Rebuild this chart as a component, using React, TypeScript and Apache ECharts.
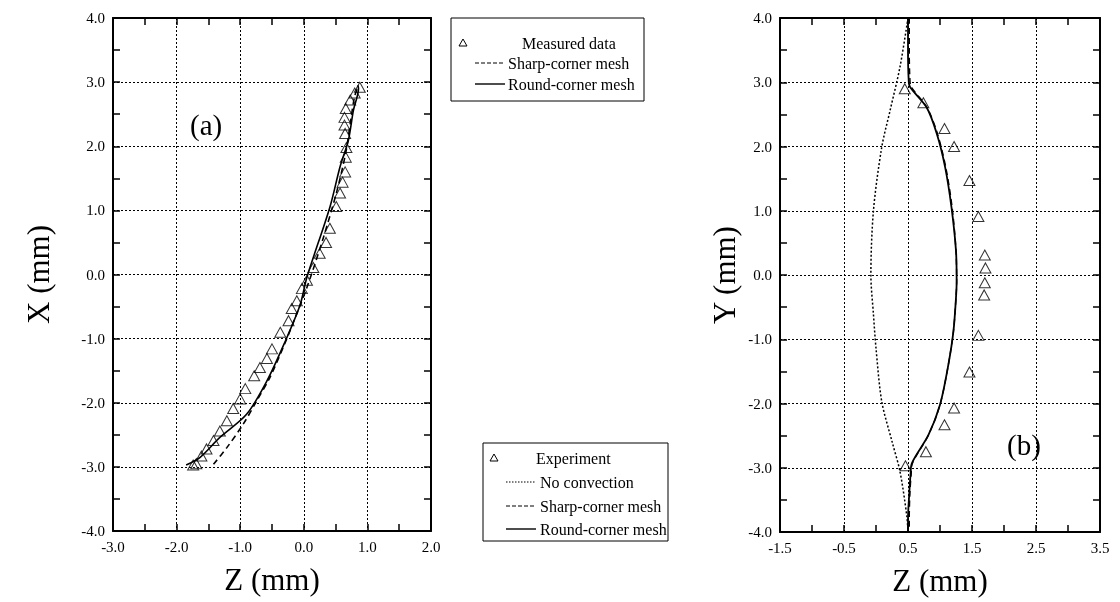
import React, { useEffect, useRef } from "react";
import * as echarts from "echarts";

// ---------- data ----------
// Panel (a): Z (mm) vs X (mm)
const measuredA: number[][] = [
  [-1.74, -2.97], [-1.69, -2.95], [-1.61, -2.83], [-1.53, -2.72], [-1.42, -2.59], [-1.32, -2.44],
  [-1.21, -2.28], [-1.11, -2.09], [-1.0, -1.94], [-0.92, -1.78], [-0.78, -1.58],
  [-0.69, -1.45], [-0.58, -1.31], [-0.5, -1.16], [-0.37, -0.9], [-0.24, -0.72],
  [-0.19, -0.53], [-0.11, -0.41], [-0.03, -0.22], [0.05, -0.09], [0.15, 0.11],
  [0.25, 0.33], [0.35, 0.5], [0.41, 0.72], [0.51, 1.06], [0.57, 1.27], [0.61, 1.44],
  [0.65, 1.6], [0.66, 1.83], [0.67, 1.98], [0.65, 2.2], [0.64, 2.33], [0.64, 2.45],
  [0.66, 2.59], [0.73, 2.72], [0.8, 2.83], [0.88, 2.92],
];
const sharpA: number[][] = [
  [-1.42, -2.96], [-1.21, -2.7], [-0.95, -2.33], [-0.74, -1.97], [-0.53, -1.6],
  [-0.3, -1.08], [-0.11, -0.61], [0.05, -0.2], [0.3, 0.55], [0.52, 1.3],
  [0.66, 1.9], [0.74, 2.42], [0.8, 2.78], [0.86, 2.95],
];
const roundA: number[][] = [
  [-1.85, -2.97], [-1.63, -2.85], [-1.32, -2.54], [-0.9, -2.18], [-0.58, -1.66],
  [-0.3, -1.06], [-0.06, -0.48], [0.05, -0.04], [0.41, 1.05], [0.57, 1.68],
  [0.7, 2.09], [0.78, 2.56], [0.86, 2.9], [0.85, 2.95],
];

// Panel (b): Z (mm) vs Y (mm)
const experimentB: number[][] = [
  [0.46, -2.97], [0.78, -2.75], [1.07, -2.33], [1.22, -2.07], [1.46, -1.51],
  [1.6, -0.94], [1.69, -0.31], [1.7, -0.12], [1.71, 0.11], [1.7, 0.31],
  [1.6, 0.91], [1.46, 1.47], [1.22, 2.0], [1.07, 2.28], [0.74, 2.68], [0.45, 2.9],
];
const noConvB: number[][] = [
  [0.5, 4.0], [0.375, 3.24], [0.22, 2.56], [0.09, 1.99], [-0.04, 1.0], [-0.08, 0.0],
  [-0.04, -0.61], [0.0, -1.14], [0.09, -1.97], [0.25, -2.59], [0.375, -3.06],
  [0.48, -3.74], [0.5, -4.0],
];
const sharpB: number[][] = [
  [0.52, 4.0], [0.52, 3.5], [0.53, 3.05], [0.55, 2.93], [0.8, 2.6], [0.96, 2.2],
  [1.09, 1.68], [1.19, 1.05], [1.25, 0.375], [1.26, -0.1], [1.25, -0.35],
  [1.21, -0.875], [1.13, -1.4], [1.0, -2.02], [0.82, -2.49], [0.57, -2.93],
  [0.55, -3.1], [0.53, -3.4], [0.52, -3.8], [0.52, -4.0],
];
const roundB: number[][] = [
  [0.5, 4.0], [0.5, 3.5], [0.51, 3.05], [0.53, 2.93], [0.79, 2.61], [0.95, 2.2],
  [1.08, 1.68], [1.18, 1.05], [1.25, 0.375], [1.26, -0.1], [1.25, -0.35],
  [1.21, -0.875], [1.13, -1.4], [1.0, -2.02], [0.82, -2.49], [0.56, -2.93],
  [0.54, -3.1], [0.52, -3.4], [0.5, -3.8], [0.5, -4.0],
];

const legendA = ["Measured data", "Sharp-corner mesh", "Round-corner mesh"];
const legendB = ["Experiment", "No convection", "Sharp-corner mesh", "Round-corner mesh"];

const SERIF = "Liberation Serif";

function mainAxis(gridIndex: number, min: number, max: number, isX: boolean, name: string, nameGap: number): any {
  return {
    gridIndex, type: "value", min, max, interval: 1,
    position: isX ? "bottom" : "left",
    axisLine: { show: true, onZero: false, lineStyle: { color: "#000", width: 2 } },
    axisTick: { show: true, inside: true, length: 7, lineStyle: { color: "#000", width: 1.5 } },
    minorTick: { show: true, splitNumber: 2, length: 7, lineStyle: { color: "#000", width: 1.5 } },
    splitLine: { show: true, lineStyle: { color: "#000", width: 1, type: [2, 2] } },
    axisLabel: { color: "#000", fontFamily: SERIF, fontSize: 15, margin: 8, formatter: (v: number) => v.toFixed(1) },
    name, nameLocation: "middle", nameGap,
    nameTextStyle: { color: "#000", fontFamily: SERIF, fontSize: 31 },
  };
}
function mirrorAxis(gridIndex: number, min: number, max: number, isX: boolean): any {
  return {
    gridIndex, type: "value", min, max, interval: 1,
    position: isX ? "top" : "right",
    axisLine: { show: true, onZero: false, lineStyle: { color: "#000", width: 2 } },
    axisTick: { show: true, inside: true, length: 7, lineStyle: { color: "#000", width: 1.5 } },
    minorTick: { show: true, splitNumber: 2, length: 7, lineStyle: { color: "#000", width: 1.5 } },
    splitLine: { show: false },
    axisLabel: { show: false },
  };
}

export default function App() {
  const ref = useRef<HTMLDivElement>(null);

  useEffect(() => {
    if (!ref.current) return;
    const chart = echarts.init(ref.current, null, { renderer: "svg" });

    const tri = {
      type: "scatter",
      symbol: "triangle",
      symbolSize: [11, 10],
      itemStyle: { color: "rgba(255,255,255,0)", borderColor: "#000", borderWidth: 1 },
    };
    const lineBase = { type: "line", showSymbol: false, symbol: "none", smooth: 0.3 };
    const lgText = { fill: "#000", font: `16px ${SERIF}`, verticalAlign: "middle" };

    const option: any = {
      animation: false,
      grid: [
        { left: 113, top: 18, width: 318, height: 513 },
        { left: 780, top: 18, width: 320, height: 514 },
      ],
      xAxis: [
        mainAxis(0, -3, 2, true, "Z (mm)", 33),
        mirrorAxis(0, -3, 2, true),
        mainAxis(1, -1.5, 3.5, true, "Z (mm)", 33),
        mirrorAxis(1, -1.5, 3.5, true),
      ],
      yAxis: [
        mainAxis(0, -4, 4, false, "X (mm)", 59),
        mirrorAxis(0, -4, 4, false),
        mainAxis(1, -4, 4, false, "Y (mm)", 40),
        mirrorAxis(1, -4, 4, false),
      ],
      series: [
        { ...tri, name: "Measured data", xAxisIndex: 0, yAxisIndex: 0, data: measuredA, z: 3 },
        { ...lineBase, name: "Sharp-corner mesh", xAxisIndex: 0, yAxisIndex: 0, data: sharpA,
          lineStyle: { color: "#000", width: 1.6, type: [6, 4] } },
        { ...lineBase, name: "Round-corner mesh", xAxisIndex: 0, yAxisIndex: 0, data: roundA,
          lineStyle: { color: "#000", width: 1.6 } },
        { ...tri, name: "Experiment", xAxisIndex: 2, yAxisIndex: 2, data: experimentB, z: 3 },
        { ...lineBase, name: "No convection", xAxisIndex: 2, yAxisIndex: 2, data: noConvB,
          lineStyle: { color: "#000", width: 1.5, type: [2, 2] } },
        { ...lineBase, name: "Sharp-corner mesh", xAxisIndex: 2, yAxisIndex: 2, data: sharpB,
          lineStyle: { color: "#000", width: 1.4, type: [6, 4] } },
        { ...lineBase, name: "Round-corner mesh", xAxisIndex: 2, yAxisIndex: 2, data: roundB,
          lineStyle: { color: "#000", width: 1.8 } },
      ],
      graphic: [
        { type: "text", left: 190, top: 110, style: { text: "(a)", fill: "#000", font: `29px ${SERIF}` } },
        { type: "text", left: 1007, top: 430, style: { text: "(b)", fill: "#000", font: `29px ${SERIF}` } },
        // legend (a)
        { type: "rect", shape: { x: 451, y: 18, width: 193, height: 83 },
          style: { fill: "#fff", stroke: "#000", lineWidth: 1 }, z: 10 },
        { type: "polygon", shape: { points: [[463, 39], [467, 46], [459, 46]] },
          style: { fill: "none", stroke: "#000", lineWidth: 1 }, z: 11 },
        { type: "text", x: 522, y: 43, style: { ...lgText, text: legendA[0] }, z: 11 },
        { type: "line", shape: { x1: 475, y1: 63, x2: 505, y2: 63 },
          style: { stroke: "#000", lineWidth: 1.2, lineDash: [4, 2] }, z: 11 },
        { type: "text", x: 508, y: 63, style: { ...lgText, text: legendA[1] }, z: 11 },
        { type: "line", shape: { x1: 475, y1: 84, x2: 505, y2: 84 },
          style: { stroke: "#000", lineWidth: 1.4 }, z: 11 },
        { type: "text", x: 508, y: 84, style: { ...lgText, text: legendA[2] }, z: 11 },
        // legend (b)
        { type: "rect", shape: { x: 483, y: 443, width: 185, height: 98 },
          style: { fill: "#fff", stroke: "#000", lineWidth: 1 }, z: 10 },
        { type: "polygon", shape: { points: [[494, 454], [498, 461], [490, 461]] },
          style: { fill: "none", stroke: "#000", lineWidth: 1 }, z: 11 },
        { type: "text", x: 536, y: 458, style: { ...lgText, text: legendB[0] }, z: 11 },
        { type: "line", shape: { x1: 506, y1: 482, x2: 536, y2: 482 },
          style: { stroke: "#000", lineWidth: 1.2, lineDash: [1.5, 1.5] }, z: 11 },
        { type: "text", x: 540, y: 482, style: { ...lgText, text: legendB[1] }, z: 11 },
        { type: "line", shape: { x1: 506, y1: 506, x2: 536, y2: 506 },
          style: { stroke: "#000", lineWidth: 1.2, lineDash: [4, 2] }, z: 11 },
        { type: "text", x: 540, y: 506, style: { ...lgText, text: legendB[2] }, z: 11 },
        { type: "line", shape: { x1: 506, y1: 529, x2: 536, y2: 529 },
          style: { stroke: "#000", lineWidth: 1.4 }, z: 11 },
        { type: "text", x: 540, y: 529, style: { ...lgText, text: legendB[3] }, z: 11 },
      ],
    };

    chart.setOption(option);
    return () => chart.dispose();
  }, []);

  return <div ref={ref} style={{ position: "fixed", left: 0, top: 0, width: 1120, height: 602 }} />;
}
